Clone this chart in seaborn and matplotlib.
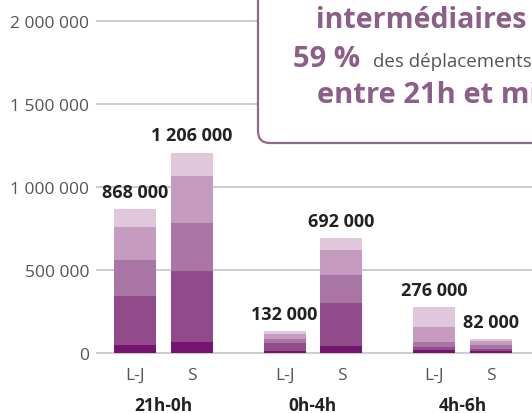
import numpy as np
import pandas as pd
import matplotlib
matplotlib.use('Agg')
import matplotlib.pyplot as plt
import matplotlib.transforms as mtransforms
from matplotlib.patches import FancyBboxPatch
import seaborn as sns

# data (trips, in thousands)
periods = ['21h-0h', '0h-4h', '4h-6h']
days = ['L-J', 'S']
totals = [868000, 1206000, 132000, 692000, 276000, 82000]
# layers from bottom (darkest) to top (lightest), bar order: 21h L-J, 21h S, 0h L-J, 0h S, 4h L-J, 4h S
layer1 = [50, 66, 14, 42, 18, 10]
layer2 = [293, 428, 44, 259, 16, 14]
layer3 = [217, 289, 26, 169, 30, 24]
layer4 = [199, 283, 29, 150, 91, 22]
layer5 = [109, 140, 19, 72, 121, 12]
yticks = [0, 500000, 1000000, 1500000, 2000000]

colors = ['#74146e', '#914b8b', '#a975a4', '#c59bc0', '#e1c7dc']

df = pd.DataFrame({
    'period': np.repeat(periods, 2),
    'day': days * 3,
})
cum = np.cumsum([layer1, layer2, layer3, layer4, layer5], axis=0) * 1000
for k in range(5):
    df[f'cum{k}'] = cum[k]

sns.set_style('white')
plt.rcParams['font.family'] = ['Open Sans', 'DejaVu Sans']

fig = plt.figure(figsize=(5.32, 4.14), dpi=100)
ax = fig.add_axes([96 / 532, 0.1249, 1 - 96 / 532, 0.862])

for k in range(4, -1, -1):
    sns.barplot(data=df, x='period', y=f'cum{k}', hue='day', order=periods,
                hue_order=days, palette={d: colors[k] for d in days},
                width=0.76, gap=0.26, saturation=1, linewidth=0,
                errorbar=None, legend=False, ax=ax)

ax.set_xlim(-0.4515, 2.465)
ax.set_ylim(-50000, 2100000)
for s in ax.spines.values():
    s.set_visible(False)
ax.set_yticks(yticks)
ax.set_yticklabels([f'{v:,}'.replace(',', ' ') for v in yticks], color='#555555', fontsize=12.5)
ax.grid(axis='y', color='#c8c8c8', lw=1.3)
ax.grid(axis='x', visible=False)
ax.set_axisbelow(True)
ax.tick_params(length=0, axis='y', pad=5)
ax.set_xlabel('')
ax.set_ylabel('')

xpos = [i + off for i in range(len(periods)) for off in (-0.19, 0.19)]
ax.set_xticks(xpos)
ax.set_xticklabels(days * 3, color='#555555', fontsize=12.5)
ax.tick_params(axis='x', length=0, pad=4)

for x, t in zip(xpos, totals):
    ax.annotate(f'{t:,}'.replace(',', ' '), (x, t), xytext=(0, 6), textcoords='offset points',
                ha='center', va='bottom', fontsize=13, fontweight='bold', color='#222222')

trans = mtransforms.blended_transform_factory(ax.transData, fig.transFigure)
for i, p in enumerate(periods):
    ax.text(i, 0.0193, p, transform=trans, ha='center', va='center',
            fontsize=12.5, fontweight='bold', color='#222222')

# callout box (cut by the figure edge)
ov = fig.add_axes([0, 0, 1, 1], zorder=5)
ov.set_xlim(0, 532)
ov.set_ylim(414, 0)
ov.set_axis_off()
ov.add_patch(FancyBboxPatch((258, -40), 330, 184, boxstyle='round,pad=0,rounding_size=12',
                            fc='white', ec='#8c6a8a', lw=1.6))
purple = '#8b5f88'
ov.text(316, 28, 'intermédiaires', fontsize=20.5, fontweight='bold', color=purple, va='baseline')
ov.text(293, 67, '59 %', fontsize=21, fontweight='bold', color=purple, va='baseline')
ov.text(373, 67, 'des déplacements', fontsize=13.5, color='#555555', va='baseline')
ov.text(317, 103, 'entre 21h et minuit', fontsize=21, fontweight='bold', color=purple, va='baseline')

plt.savefig('out.png', dpi=100)
